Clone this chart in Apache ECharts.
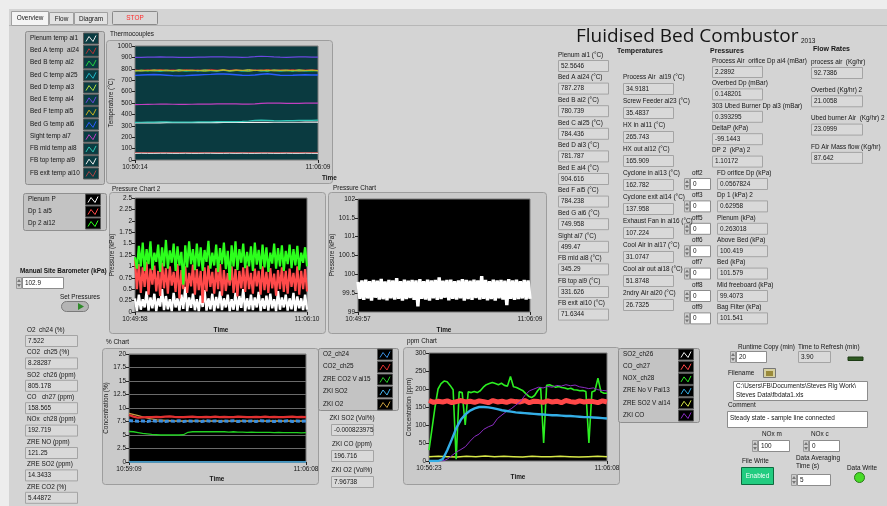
<!DOCTYPE html>
<html>
<head>
<meta charset="utf-8">
<script src="https://cdn.jsdelivr.net/npm/echarts@6/dist/echarts.min.js"></script>
<style>
html, body { margin: 0; padding: 0; background: #ededed; }
#main { width: 887px; height: 506px; }
</style>
</head>
<body>
<div id="main"></div>
<script>
// ---------- data ----------
// thermocouples (degC), left->right over 10:50:14 .. 11:06:09
var tcNames = ['Plenum temp ai1', 'Bed A temp  ai24', 'Bed B temp ai2', 'Bed C temp ai25', 'Bed D temp ai3', 'Bed E temp ai4',
  'Bed F temp ai5', 'Bed G temp ai6', 'Sight temp ai7', 'FB mid temp ai8', 'FB top temp ai9', 'FB exit temp ai10'];
var tcColors = ['#e8e8e8', '#b83232', '#22d040', '#22b8c8', '#b8e040', '#6a48e0', '#c8b020', '#2a5cff', '#c040c0', '#30c8b8', '#f0f0f0', '#a84444'];
var tcPlenum = [58,59,58,58,59,59,58,58,59,58,58,59,59,58,58,59,58,59,58,58,59,59,58,58,59,58,58,59,58,58];
var tcBedA = [790,786,792,788,794,787,791,785,793,789,790,786,795,788,791,787,793,786,790,792,788,794,787,791,789,793,786,790,792,788];
var tcBedB = [782,786,780,784,779,785,781,787,780,783,786,779,784,781,787,780,785,782,779,786,783,780,785,781,784,779,786,782,780,785];
var tcBedC = [784,781,786,783,780,785,782,787,781,784,780,786,783,781,785,782,786,780,784,787,781,783,786,780,785,782,784,781,786,783];
var tcBedD = [781,788,783,790,784,789,782,791,785,788,783,790,786,784,791,783,789,785,792,784,788,782,790,786,789,783,791,785,788,784];
var tcBedE = [900,901,902,903,904,903,902,901,900,901,902,903,904,905,904,903,902,901,903,906,910,908,904,902,901,903,904,905,903,902];
var tcBedF = [784,780,786,782,788,781,785,779,787,783,786,780,785,782,788,781,784,787,780,786,783,789,781,785,782,787,780,784,786,782];
var tcBedG = [742,745,748,750,748,744,740,738,740,743,746,749,751,754,755,752,748,744,742,746,752,756,750,744,742,743,746,748,746,745];
var tcSight = [486,487,488,489,490,490,489,488,488,489,490,491,491,492,493,493,492,491,491,493,496,499,500,499,497,496,497,499,500,499];
var tcFBmid = [330,331,332,333,334,334,333,332,332,333,334,335,335,336,337,336,336,338,342,347,349,347,345,344,345,346,347,348,348,349];
var tcFBtop = [325,325,326,326,326,327,327,327,327,327,328,328,328,328,329,329,329,329,330,330,330,330,331,331,331,331,331,332,332,332];
var tcFBexit = [64,64,65,64,64,65,65,64,64,65,64,64,65,65,64,64,65,65,64,65,64,64,65,65,64,65,64,64,65,64];

// Pressure Chart 2 (kPa)
var p2Names = ['Plenum P', 'Dp 1 ai5', 'Dp 2 ai12'];
var p2Colors = ['#ffffff', '#ff4a4a', '#2cff1c'];
var p2Plenum = [0.3,0.02,0.38,0.05,0.28,0.1,0.45,0.03,0.32,0.08,0.4,0.02,0.3,0.12,0.5,0.04,0.35,0.06,0.28,0.02,0.42,0.1,0.3,0.03,0.38,0.07,0.55,0.02,0.32,0.09,0.4,0.04,0.28,0.02,0.36,0.11,0.48,0.03,0.3,0.06,0.4,0.02,0.33,0.08,0.45,0.04,0.3,0.1,0.38,0.02,0.28,0.05,0.42,0.03,0.35,0.09,0.5,0.02,0.3,0.06,0.38,0.04,0.32,0.1,0.44,0.02,0.3,0.07,0.36,0.03,0.4,0.08,0.28,0.02,0.46,0.05,0.32,0.1,0.38,0.03,0.3,0.06,0.42,0.02,0.34,0.08,0.3,0.04,0.38,0.05];
var p2Dp1 = [1.15,0.5,1.05,0.42,0.98,0.55,1.1,0.38,0.95,0.6,1.02,0.45,0.9,0.35,1.08,0.52,0.96,0.4,1.0,0.58,0.88,0.44,1.05,0.3,0.92,0.5,1.0,0.42,0.86,0.56,1.04,0.38,0.94,0.48,0.9,0.2,0.98,0.45,1.02,0.55,0.88,0.4,0.96,0.5,1.05,0.36,0.92,0.46,0.85,0.58,1.0,0.42,0.94,0.34,0.9,0.52,0.98,0.44,1.02,0.5,0.86,0.4,0.95,0.56,0.9,0.38,1.0,0.48,0.88,0.42,0.96,0.52,0.84,0.36,0.92,0.5,0.98,0.44,0.9,0.4,0.95,0.55,0.86,0.46,1.0,0.38,0.9,0.5,0.94,0.45];
var p2Dp2 = [1.2,0.95,1.45,1.0,1.52,0.9,1.38,1.05,1.55,0.92,1.3,1.1,1.48,0.88,1.42,1.0,1.58,0.95,1.35,1.08,1.5,0.9,1.44,1.02,1.32,0.6,1.46,0.98,1.55,1.05,1.38,0.92,1.5,1.0,1.42,0.9,1.36,1.1,1.56,0.95,1.3,1.02,1.48,0.88,1.4,1.05,1.52,0.94,1.34,0.7,1.46,1.0,1.55,0.92,1.38,1.08,1.5,0.96,1.32,1.0,1.44,0.9,1.52,1.04,1.36,0.94,1.48,0.98,1.42,0.88,1.3,1.06,1.5,0.95,1.4,1.0,1.46,0.9,1.34,1.05,1.48,0.96,1.38,1.02,1.45,0.92,1.3,1.08,1.42,1.0];

// Pressure Chart (kPa)
var pBaro = [99.8,99.35,99.84,99.32,99.86,99.36,99.82,99.3,99.85,99.38,99.83,99.33,99.88,99.34,99.81,99.31,99.85,99.36,99.84,99.33,99.9,99.35,99.82,99.3,99.86,99.34,99.83,99.37,99.85,99.32,99.84,99.15,99.87,99.35,99.82,99.33,99.86,99.3,99.84,99.36,99.85,99.32,99.92,99.34,99.83,99.38,99.85,99.31,99.86,99.35,99.82,99.33,99.84,99.36,99.87,99.3,99.85,99.34,99.83,99.32,99.86,99.37,99.84,99.33,99.95,99.35,99.85,99.31,99.82,99.34,99.86,99.3,99.84,99.36,99.85,99.33,99.83,99.18,99.87,99.35,99.84,99.32,99.86,99.34,99.82,99.36,99.85,99.33,99.84,99.35];

// % Chart
var pctNames = ['O2_ch24', 'CO2_ch25', 'ZRE CO2 V ai15', 'ZKI SO2', 'ZKI O2'];
var pctColors = ['#3a8fe0', '#e03030', '#22d022', '#46b4ee', '#c8a040'];
var pctO2 = [7.7,7.6,7.55,7.6,7.5,7.65,7.55,7.6,7.5,7.6,7.55,7.65,7.5,7.6,7.55,7.6,7.5,7.65,7.55,7.6,7.5,7.6,7.55,7.65,7.5,7.6,7.55,7.6,7.5,7.65,7.55,7.6,7.5,7.6,7.55,7.65,7.5,7.6,7.55,7.6];
var pctCO2 = [8.7,8.4,8.2,8.25,8.3,8.3,8.35,8.3,8.4,8.45,8.35,8.3,8.3,8.35,8.4,8.3,8.3,8.35,8.3,8.4,8.3,8.35,8.3,8.3,8.4,8.35,8.3,8.3,8.35,8.3,8.4,8.3,8.35,8.3,8.3,8.35,8.4,8.3,8.35,8.3];
var pctZreCO2 = [5.65,5.6,5.45,5.3,5.2,5.1,5.05,5.0,5.0,5.0,5.0,5.0,5.05,5.5,5.6,5.6,5.6,5.6,5.6,5.6,5.6,5.6,5.55,5.6,5.55,5.55,5.5,5.55,5.5,5.5,5.5,5.5,5.45,5.5,5.45,5.45,5.45,5.45,5.4,5.45];
var pctZkiSO2 = [0,0,-0.001,0,0,-0.001,0,0,0,-0.001,0,0];
var pctZkiO2 = [9.0,8.6,8.1,7.8,7.7,7.6,7.6,7.6,7.6,7.6,7.6,7.6,7.6,7.6,7.6,7.6,7.6,7.6,7.6,7.6];

// ppm Chart
var ppmNames = ['SO2_ch26', 'CO_ch27', 'NOX_ch28', 'ZRE No V Pai13', 'ZRE SO2 V ai14', 'ZKI CO'];
var ppmColors = ['#f0f0f0', '#ff4848', '#2cee22', '#34aee6', '#d8e848', '#8a2cc0'];
var ppmSO2 = [805,806,804,805,805,806];
var ppmCO = [168,163,166,164,167,162,165,168,164,166,163,167,165,162,168,164,166,163,167,165,164,168,162,166,165,163,167,164,166,162,168,165,163,167,164,166,165,162,167,164];
var ppmNOx = [30,90,150,200,215,222,220,210,198,5,192,190,100,192,190,193,190,195,205,212,215,218,215,212,216,210,208,235,206,204,200,196,188,180,176,182,195,205,50,210,212,208,205,207,204,203,200,202,198,197,195,196,193,50,192,195,230,192,188,188];
var ppmZreNO = [0,0,0,5,30,60,92,115,130,140,146,150,150,149,147,144,141,139,137,135,134,133,132,131,130,129,128,127,127,126,125,125,124,123,122,122,121,120,119,118];
var ppmZreSO2 = [12,13,12,11,13,12,14,12,13,12,11,13,12,12,13,12,11,12,13,12];
var ppmZkiCO = [0,0,0,0,5,15,25,32,40,55,68,75,88,95,100,118,128,138,145,155,165,182,195,200,205,203,207,205,210,208,212,209,211,206,204,201,203,198,196,195];

// numeric indicators
var leftLabels = ['O2  ch24 (%)', 'CO2  ch25 (%)', 'SO2  ch26 (ppm)', 'CO   ch27 (ppm)', 'NOx  ch28 (ppm)', 'ZRE NO (ppm)', 'ZRE SO2 (ppm)', 'ZRE CO2 (%)'];
var leftValues = ['7.522', '8.28287', '805.178', '158.565', '192.719', '121.25', '14.3433', '5.44872'];
var tempALabels = ['Plenum ai1 (°C)', 'Bed A ai24 (°C)', 'Bed B ai2 (°C)', 'Bed C ai25 (°C)', 'Bed D ai3 (°C)', 'Bed E ai4 (°C)',
  'Bed F ai5 (°C)', 'Bed G ai6 (°C)', 'Sight ai7 (°C)', 'FB mid ai8 (°C)', 'FB top ai9 (°C)', 'FB exit ai10 (°C)'];
var tempAValues = ['52.5646', '787.278', '780.739', '784.436', '781.787', '904.616', '784.238', '749.958', '499.47', '345.29', '331.626', '71.6344'];
var tempBLabels = ['Process Air  ai19 (°C)', 'Screw Feeder ai23 (°C)', 'HX in ai11 (°C)', 'HX out ai12 (°C)', 'Cyclone in ai13 (°C)',
  'Cyclone exit ai14 (°C)', 'Exhaust Fan in ai16 (°C)', 'Cool Air in ai17 (°C)', 'Cool air out ai18 (°C)', '2ndry Air ai20 (°C)'];
var tempBValues = ['34.9181', '35.4837', '265.743', '165.909', '162.782', '137.958', '107.224', '31.0747', '51.8748', '26.7325'];
var presLabels = ['Process Air  orifice Dp ai4 (mBar)', 'Overbed Dp (mBar)', '303 Ubed Burner Dp ai3 (mBar)', 'DeltaP (kPa)', 'DP 2  (kPa) 2',
  'FD orifice Dp (kPa)', 'Dp 1 (kPa) 2', 'Plenum (kPa)', 'Above Bed (kPa)', 'Bed (kPa)', 'Mid freeboard (kPa)', 'Bag Filter (kPa)'];
var presValues = ['2.2892', '0.148201', '0.393295', '-99.1443', '1.10172', '0.0567824', '0.62958', '0.263018', '100.419', '101.579', '99.4073', '101.541'];
var offLabels = ['off2', 'off3', 'off5', 'off6', 'off7', 'off8', 'off9'];
var flowLabels = ['process air  (Kg/hr)', 'Overbed (Kg/hr) 2', 'Ubed burner Air  (Kg/hr) 2', 'FD Air Mass flow (Kg/hr)'];
var flowValues = ['92.7386', '21.0058', '23.0999', '87.642'];
var zkiLabels = ['ZKI SO2 (Vol%)', 'ZKI CO (ppm)', 'ZKI O2 (Vol%)'];
var zkiValues = ['-0.000823975', '196.716', '7.96738'];

// ---------- drawing helpers ----------
var FONT = '"Liberation Sans", Arial, sans-serif';
var FS = 6.4;
var G = [];
function T(x, y, s, o) {
  o = o || {};
  G.push({
    type: 'text', x: x, y: y, z: o.z || 20, rotation: o.rot || 0, silent: true,
    style: {
      text: s, fill: o.color || '#151515',
      font: (o.bold ? 'bold ' : '') + (o.size || FS) + 'px ' + (o.family || FONT),
      align: o.align || 'left', verticalAlign: 'middle',
      textAlign: o.align || 'left', textVerticalAlign: 'middle'
    }
  });
}
function R(x, y, w, h, fill, stroke, z, r) {
  G.push({ type: 'rect', z: z == null ? -5 : z, silent: true,
    shape: { x: x, y: y, width: w, height: h, r: r || 0 },
    style: { fill: fill, stroke: stroke || null, lineWidth: 1 } });
}
function box(x, y, w, val, white) {
  R(x + 0.5, y + 0.5, w, 11, white ? '#ffffff' : '#d9d9d9', white ? '#8c8c8c' : '#a4a4a4', -3);
  T(x + 3, y + 6, val, { z: 21 });
}
function spin(x, y, w, val) {
  R(x - 5.5, y + 0.5, 5, 11, '#cfcfcf', '#9a9a9a', -3);
  G.push({ type: 'polygon', z: -2, silent: true, shape: { points: [[x - 5, y + 5], [x - 3, y + 2], [x - 1, y + 5]] }, style: { fill: '#777' } });
  G.push({ type: 'polygon', z: -2, silent: true, shape: { points: [[x - 5, y + 7], [x - 3, y + 10], [x - 1, y + 7]] }, style: { fill: '#777' } });
  box(x, y, w, val, true);
}
function legendPanel(x, y, w, h, names, colors, iconBg, step, firstY) {
  R(x + 0.5, y + 0.5, w, h, '#c3c3c3', '#8f8f8f', -4, 2);
  for (var i = 0; i < names.length; i++) {
    var cy = firstY + i * step;
    T(x + 5, cy, names[i]);
    var ix = x + w - 21, iy = cy - 5.5;
    R(ix + 0.5, iy + 0.5, 15, 11, iconBg, '#5a5a5a', -2);
    G.push({ type: 'polyline', z: -1, silent: true,
      shape: { points: [[ix + 3, iy + 9], [ix + 6, iy + 4], [ix + 10, iy + 9], [ix + 13, iy + 3]] },
      style: { stroke: colors[i], lineWidth: 1, fill: null } });
  }
}
function frame(x, y, w, h) {
  R(x + 0.5, y + 0.5, w, h, '#cacaca', '#9d9d9d', -6, 3);
}

// ---------- static panel ----------
R(9, 9, 878, 497, '#d4d4d4', null, -9);
R(9, 25, 878, 0.5, '#9a9a9a', null, -8);
R(11.5, 11.5, 37, 14, '#f4f4f4', '#a0a0a0', -7);
R(49.5, 12.5, 24, 12, '#e2e2e2', '#a0a0a0', -7);
R(74.5, 12.5, 33, 12, '#e2e2e2', '#a0a0a0', -7);
T(30, 18.5, 'Overview', { align: 'center' });
T(61.5, 19, 'Flow', { align: 'center' });
T(91, 19, 'Diagram', { align: 'center' });
R(112.5, 11.5, 45, 13, '#d8d8d8', '#8a8a8a', -7, 1);
T(135, 18, 'STOP', { align: 'center', color: '#ff2a2a' });

// chart frames
frame(106, 40, 226, 143);
frame(109, 192, 216, 141);
frame(328, 192, 218, 141);
frame(102, 348, 216, 136);
frame(403, 347, 216, 137);
T(110, 34, 'Thermocouples');
T(112, 189, 'Pressure Chart 2');
T(333, 188, 'Pressure Chart');
T(106, 342, '% Chart');
T(407, 341, 'ppm Chart');

// axis names
T(322, 178, 'Time', { bold: true });
T(221, 330, 'Time', { bold: true, align: 'center' });
T(444, 330, 'Time', { bold: true, align: 'center' });
T(217, 479, 'Time', { bold: true, align: 'center' });
T(518, 477, 'Time', { bold: true, align: 'center' });
T(111, 103, 'Temperature (°C)', { rot: Math.PI / 2, align: 'center' });
T(112, 255, 'Pressure (kPa)', { rot: Math.PI / 2, align: 'center' });
T(332, 255, 'Pressure (kPa)', { rot: Math.PI / 2, align: 'center' });
T(106, 408, 'Concentration (%)', { rot: Math.PI / 2, align: 'center' });
T(409, 407, 'Concentration (ppm)', { rot: Math.PI / 2, align: 'center' });

// legends
legendPanel(25, 31, 79, 153, tcNames, tcColors, '#0b3c42', 12.27, 38);
legendPanel(23, 193, 83, 37, p2Names, ['#ffffff', '#ff4a4a', '#2cff1c'], '#000000', 12, 199);
legendPanel(318, 348, 80, 62, pctNames, pctColors, '#000000', 12.5, 354);
legendPanel(618, 348, 81, 74, ppmNames, ppmColors, '#000000', 12.2, 354);

// barometer + set pressures
T(20, 271, 'Manual Site Barometer (kPa)', { bold: true });
spin(22, 277, 41, '102.9');
T(80, 297, 'Set Pressures', { align: 'center' });
R(61.5, 301.5, 27, 10, '#b4b4b4', '#7a7a7a', -4, 5);
G.push({ type: 'polygon', z: -2, silent: true, shape: { points: [[78, 303], [84, 306.5], [78, 310]] }, style: { fill: '#2f8a2a' } });

// left indicator column
leftLabels.forEach(function (s, i) {
  var y = 330 + i * 22.4;
  T(27, y, s);
  box(25, y + 5, 52, leftValues[i]);
});

// ZKI indicators under % legend
zkiLabels.forEach(function (s, i) {
  var y = 418 + i * 26;
  T(352, y, s, { align: 'center' });
  box(331, y + 6, 42, zkiValues[i]);
});

// title
T(576, 37, 'Fluidised Bed Combustor', { size: 19, family: '"Open Sans", "Liberation Sans", sans-serif' });
T(801, 41, '2013', { size: 6.5 });
T(617, 51, 'Temperatures', { bold: true, size: 7 });
T(710, 51, 'Pressures', { bold: true, size: 7 });
T(813, 49, 'Flow Rates', { bold: true, size: 7 });

tempALabels.forEach(function (s, i) {
  var y = 55 + i * 22.6;
  T(558, y, s);
  box(558, y + 5, 50, tempAValues[i]);
});
tempBLabels.forEach(function (s, i) {
  var y = 77 + i * 24;
  T(623, y, s);
  box(623, y + 6, 50, tempBValues[i]);
});
presLabels.forEach(function (s, i) {
  var y = 61 + i * 22.4;
  var x = i < 5 ? 712 : 717;
  T(x, y, s);
  box(x, y + 5, 50, presValues[i]);
  if (i >= 5) {
    T(692, y, offLabels[i - 5]);
    spin(690, y + 5, 20, '0');
  }
});
flowLabels.forEach(function (s, i) {
  var y = 62 + i * 28.3;
  T(811, y, s);
  box(811, y + 5, 51, flowValues[i]);
});

// bottom-right controls
T(738, 347, 'Runtime Copy (min)');
spin(736, 351, 30, '20');
T(798, 347, 'Time to Refresh (min)');
box(798, 351, 32, '3.90');
R(848, 357, 15, 3.5, '#2f5a22', '#1c3a14', -3);
T(728, 373, 'Filename');
R(763.5, 368.5, 12, 9, '#d6d0a0', '#777', -3);
R(766, 371, 7, 5, '#9a8a3a', null, -2);
R(733.5, 381.5, 134, 19, '#ffffff', '#8c8c8c', -3);
T(736, 386, 'C:\\Users\\FB\\Documents\\Steves Rig Work\\');
T(736, 395, 'Steves Data\\fbdata1.xls');
T(728, 405, 'Comment');
R(727.5, 411.5, 140, 16, '#ffffff', '#8c8c8c', -3);
T(730, 418, 'Steady state - sample line connected');
T(762, 434, 'NOx m');
spin(758, 440, 31, '100');
T(811, 434, 'NOx c');
spin(809, 440, 30, '0');
T(742, 461, 'File Write');
R(741.5, 467.5, 32, 17, '#22cc80', '#0d6a3e', -3);
T(757.5, 476, 'Enabled', { align: 'center', color: '#f4fff8' });
T(796, 458, 'Data Averaging');
T(796, 466, 'Time (s)');
spin(797, 474, 33, '5');
T(847, 468, 'Data Write');
G.push({ type: 'circle', z: -2, silent: true, shape: { cx: 859.5, cy: 477.5, r: 5 }, style: { fill: '#48dc28', stroke: '#2a7a18', lineWidth: 1 } });

// ---------- charts ----------
function xy(arr) { return arr.map(function (v, i) { return [i / (arr.length - 1), v]; }); }
function ln(g, name, arr, color, w, extra) {
  var s = { name: name, type: 'line', xAxisIndex: g, yAxisIndex: g, data: xy(arr), showSymbol: false, symbol: 'none',
    animation: false, silent: true, lineStyle: { color: color, width: w || 1 }, itemStyle: { color: color } };
  if (extra) Object.assign(s, extra);
  return s;
}
function xa(g, a, b) {
  return { gridIndex: g, type: 'value', min: 0, max: 1, interval: 1,
    axisLine: { show: false }, splitLine: { show: false },
    axisTick: { show: true, length: 3, lineStyle: { color: '#222' } },
    axisLabel: { fontSize: 6.5, color: '#151515', fontFamily: FONT, margin: 4,
      formatter: function (v) { return v === 0 ? a : (v === 1 ? b : ''); } } };
}
function ya(g, min, max, step, split) {
  return { gridIndex: g, type: 'value', min: min, max: max, interval: step,
    axisLine: { show: false },
    axisTick: { show: true, length: 3, lineStyle: { color: '#222' } },
    axisLabel: { fontSize: 6.5, color: '#151515', fontFamily: FONT, margin: 3,
      formatter: function (v) { return String(v); } },
    splitLine: { show: !!split, lineStyle: { color: '#6a6a6a', width: 1 } } };
}
function gr(l, t, w, h, bg) {
  return { left: l, top: t, width: w, height: h, show: true, backgroundColor: bg, borderColor: '#7a7a7a', borderWidth: 1 };
}

var series = [
  ln(0, tcNames[11], tcFBexit, tcColors[11], 1.2),
  ln(0, tcNames[0], tcPlenum, tcColors[0], 1),
  ln(0, tcNames[1], tcBedA, tcColors[1], 1),
  ln(0, tcNames[2], tcBedB, tcColors[2], 1),
  ln(0, tcNames[3], tcBedC, tcColors[3], 1),
  ln(0, tcNames[4], tcBedD, tcColors[4], 1),
  ln(0, tcNames[5], tcBedE, tcColors[5], 1.2),
  ln(0, tcNames[6], tcBedF, tcColors[6], 1),
  ln(0, tcNames[7], tcBedG, tcColors[7], 1.4),
  ln(0, tcNames[8], tcSight, tcColors[8], 1.2),
  ln(0, tcNames[10], tcFBtop, tcColors[10], 1.2),
  ln(0, tcNames[9], tcFBmid, tcColors[9], 1.2),

  ln(1, p2Names[0], p2Plenum, p2Colors[0], 2.4),
  ln(1, p2Names[1], p2Dp1, p2Colors[1], 2.2),
  ln(1, p2Names[2], p2Dp2, p2Colors[2], 2.2),

  ln(2, 'Pressure', pBaro, '#ffffff', 3.4),

  ln(3, pctNames[4], pctZkiO2, pctColors[4], 1.2, { z: 1 }),
  ln(3, pctNames[0], pctO2, pctColors[0], 3, { lineStyle: { color: pctColors[0], width: 3, type: [4, 2] } }),
  ln(3, pctNames[1], pctCO2, pctColors[1], 2.2),
  ln(3, pctNames[2], pctZreCO2, pctColors[2], 1.3),
  ln(3, pctNames[3], pctZkiSO2, pctColors[3], 1.5),

  ln(4, ppmNames[0], ppmSO2, ppmColors[0], 1),
  ln(4, ppmNames[4], ppmZreSO2, ppmColors[4], 1.5),
  ln(4, ppmNames[2], ppmNOx, ppmColors[2], 1.6),
  ln(4, ppmNames[1], ppmCO, ppmColors[1], 5),
  ln(4, ppmNames[5], ppmZkiCO, ppmColors[5], 1),
  ln(4, ppmNames[3], ppmZreNO, ppmColors[3], 2.4)
];

var chart = echarts.init(document.getElementById('main'));
chart.setOption({
  animation: false,
  backgroundColor: 'transparent',
  textStyle: { fontFamily: FONT },
  grid: [
    gr(135, 46, 183, 114, '#0a3a40'),
    gr(135, 198, 172, 114, '#000000'),
    gr(358, 199, 172, 113, '#000000'),
    gr(129, 354, 177, 108, '#000000'),
    gr(429, 353, 178, 108, '#000000')
  ],
  xAxis: [
    xa(0, '10:50:14', '11:06:09'),
    xa(1, '10:49:58', '11:06:10'),
    xa(2, '10:49:57', '11:06:09'),
    xa(3, '10:59:09', '11:06:08'),
    xa(4, '10:56:23', '11:06:08')
  ],
  yAxis: [
    ya(0, 0, 1000, 100),
    ya(1, 0, 2.5, 0.25),
    ya(2, 99, 102, 0.5),
    ya(3, 0, 20, 2.5, true),
    ya(4, 0, 300, 50)
  ],
  graphic: { elements: G },
  series: series
});
</script>
</body>
</html>
